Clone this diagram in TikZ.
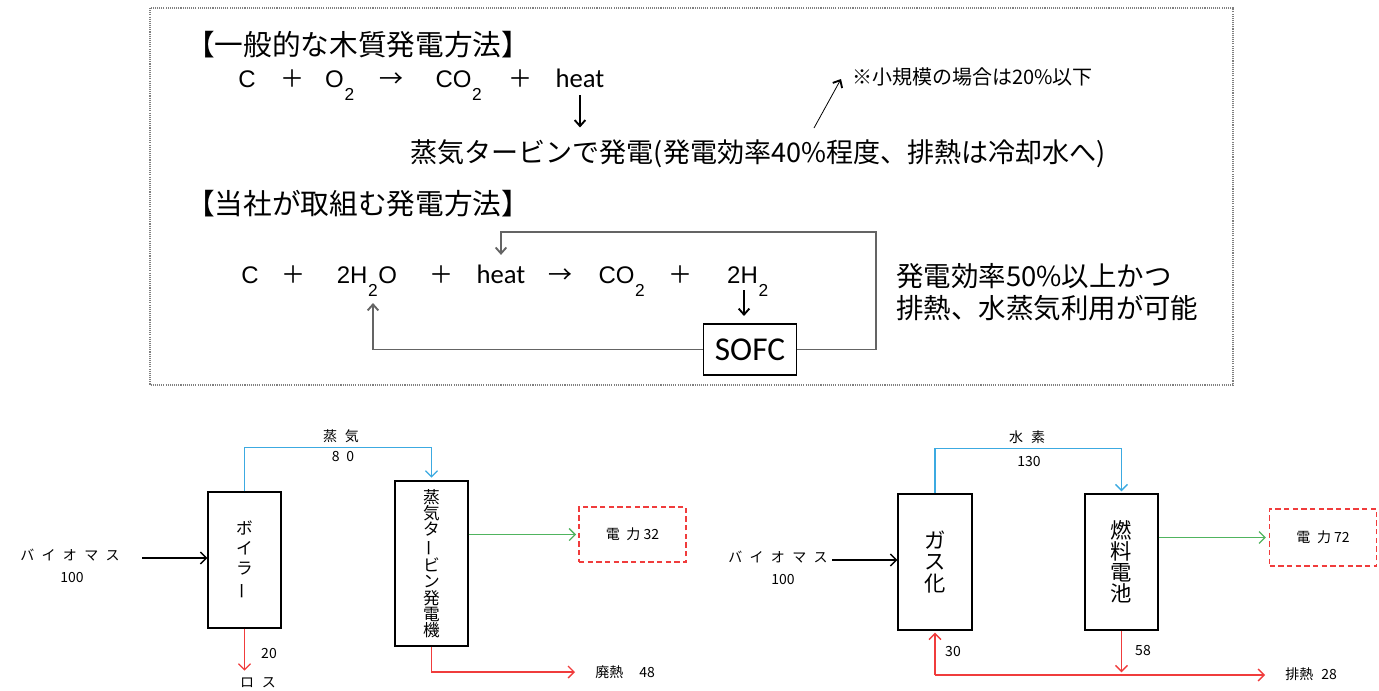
\documentclass[tikz,border=0pt]{standalone}
\usepackage{graphicx}
\usepackage{fontspec}
\setmainfont{Noto Sans CJK JP}
\newfontfamily\arialf{Liberation Sans}
\newfontfamily\calib{Carlito}
\usetikzlibrary{arrows.meta}
\definecolor{cblue}{RGB}{60,170,225}
\definecolor{cgreen}{RGB}{80,180,95}
\definecolor{cred}{RGB}{240,60,60}
\definecolor{lgray}{RGB}{100,100,100}
\newcommand\fs[1]{\fontsize{#1}{#1}\selectfont}
\newcommand\subtwo{\kern0.5pt\raisebox{-0.55em}{\fontsize{13}{13}\selectfont 2}\kern0.5pt}
\newcommand\ls{\hspace{5.5pt}}
\newcommand\vbar{\rotatebox[origin=c]{90}{ー}}
\begin{document}
\begin{tikzpicture}[x=0.75pt,y=-0.75pt,
  eq/.style={anchor=base,inner sep=0pt,font=\arialf\fs{18}},
  eqj/.style={anchor=base,inner sep=0pt,font=\fs{18}},
  heatf/.style={anchor=base,inner sep=0pt,font=\calib\fs{20}},
  big/.style={anchor=west,inner sep=0pt,font=\fs{21.5}},
  lab/.style={inner sep=0pt,font=\fs{10.5}},
  boxn/.style={draw,line width=1pt,inner sep=0pt,align=center},
  pbox/.style={draw=cred,line width=1.3pt,dash pattern=on 4pt off 2.5pt,inner sep=0pt,font=\fs{10.5}},
  barr/.style={-{Straight Barb[length=4.5pt,width=9pt]},line width=1pt},
  tarr/.style={-{Straight Barb[length=4.5pt,width=8pt,line width=1.4pt]},line width=0.8pt}
]
\useasboundingbox (0,0) rectangle (1379,690);
% ---------- top box ----------
\draw[gray,line width=0.8pt,dash pattern=on 0.8pt off 0.8pt] (150,8) rectangle (1233,385);
\node[big] (h1) at (186,45) {【一般的な木質発電方法】};
% equation 1
\node[eq]  (c1)  at (247,87) {C};
\node[eqj] (p1)  at (292,87) {＋};
\node[eq]  (o2)  at (340,87) {O\subtwo};
\node[eqj] (a1)  at (391,87) {→};
\node[eq]  (co1) at (459,87) {CO\subtwo};
\node[eqj] (p2)  at (520,87) {＋};
\node[heatf] (heat1) at (580,87) {heat};
\node[anchor=west,inner sep=0pt,font=\fs{20.3}] (steam) at (410,154) {蒸気タービンで発電(発電効率40\%程度、排熱は冷却水へ)};
\draw[tarr] ([yshift=-6pt]heat1.south) -- ([yshift=-30pt]heat1.south);
\node[anchor=west,inner sep=0pt,font=\fs{15}] (note) at (852,77) {※小規模の場合は20\%以下};
\coordinate (ns) at (814,128);
\coordinate (ne) at (841,79);
\draw[tarr,line width=0.6pt] (ns) -- (ne);
% equation 2
\node[big] (h2) at (186,204) {【当社が取組む発電方法】};
\node[eq]  (c2)  at (250,283) {C};
\node[eqj] (p3)  at (293,283) {＋};
\node[eq]  (h2o) at (367,283) {2H\subtwo O};
\node[eqj] (p4)  at (441,283) {＋};
\node[heatf] (heat2) at (501,283) {heat};
\node[eqj] (a2)  at (560,283) {→};
\node[eq]  (co2) at (622,283) {CO\subtwo};
\node[eqj] (p5)  at (680,283) {＋};
\node[eq]  (hh)  at (748,283) {2H\subtwo};
\node[draw,line width=1pt,minimum width={93*0.75pt},minimum height={51*0.75pt},inner sep=0pt,font=\calib\fs{25}] (sofc) at (750,349.5) {SOFC};
\coordinate (fb) at (876,232);
\draw[tarr,draw=lgray] (sofc.east) -| (fb) -| ([yshift=7pt]heat2.north);
\coordinate (h2oarr) at (373,303);
\draw[tarr,draw=lgray] (sofc.west) -| (h2oarr);
\coordinate (hhs) at (744,290);
\coordinate (hhe) at (744,316);
\draw[tarr] (hhs) -- (hhe);
\node[anchor=west,inner sep=0pt,font=\fs{20.6}] (r1) at (896,276) {発電効率50\%以上かつ};
\node[anchor=west,inner sep=0pt,font=\fs{20.6}] (r2) at (896,308) {排熱、水蒸気利用が可能};
% ---------- bottom left ----------
\node[boxn,minimum width={73*0.75pt},minimum height={136*0.75pt},font=\fontsize{12.5}{15}\selectfont] (boiler) at (244.5,560) {ボ\\イ\\ラ\\\vbar};
\node[boxn,minimum width={73*0.75pt},minimum height={165*0.75pt},font=\fontsize{12.5}{12.2}\selectfont] (turb) at (431.5,563.5) {蒸\\気\\タ\\\vbar\\ビ\\ン\\発\\電\\機};
\node[pbox,minimum width={107*0.75pt},minimum height={55*0.75pt}] (pw1) at (632.5,534.5) {電\hspace{5pt}力 32};
\node[lab] (bio1) at (70,555) {バ\ls イ\ls オ\ls マ\ls ス};
\node[lab] (n100a) at (72,577) {100};
\coordinate (b1s) at (142,558);
\draw[barr] (b1s) -- (boiler.west |- b1s);
\draw[barr,cblue] (boiler.north) -- ++(0,-44) -| ([yshift=2pt]turb.north);
\node[lab] (steaml) at (341,436) {蒸\hspace{6pt}気};
\node[lab] (s80) at (343,457) {8\hspace{5pt}0};
\draw[barr,cgreen,shorten >=1.5pt] (turb.east |- pw1.west) -- (pw1.west);
\draw[barr,cred] (boiler.south) -- ++(0,42);
\node[lab] (n20) at (269,653) {20};
\node[lab] (loss) at (258,683) {ロ\hspace{6pt}ス};
\node[lab,anchor=west] (waste) at (595,672) {廃熱\hspace{12pt}48};
\coordinate (w1) at (575,672);
\draw[barr,cred] (turb.south) |- (w1);
% ---------- bottom right ----------
\node[boxn,minimum width={74*0.75pt},minimum height={136*0.75pt},font=\fontsize{16}{15.8}\selectfont] (gas) at (935,562) {ガ\\ス\\化};
\node[boxn,minimum width={73*0.75pt},minimum height={136*0.75pt},font=\fontsize{16}{15.8}\selectfont] (fuel) at (1121.5,562) {燃\\料\\電\\池};
\node[pbox,minimum width={107*0.75pt},minimum height={57*0.75pt}] (pw2) at (1323,537.5) {電\hspace{5pt}力 72};
\node[lab] (bio2) at (778,557) {バ\ls イ\ls オ\ls マ\ls ス};
\node[lab] (n100b) at (783,579) {100};
\coordinate (b2s) at (832,560);
\draw[barr] (b2s) -- (gas.west |- b2s);
\draw[barr,cblue,shorten >=1.5pt] (gas.north) -- ++(0,-45) -| (fuel.north);
\node[lab] (hyd) at (1027,437) {水\hspace{6pt}素};
\node[lab] (n130) at (1029,462) {130};
\draw[barr,cgreen,shorten >=2pt] (fuel.east |- pw2.west) -- (pw2.west);
\coordinate (hl1) at (935,675);
\coordinate (hl2) at (1265,675);
\draw[barr,cred] (hl1) -- (hl2);
\draw[barr,cred,shorten >=1.5pt] (hl1) -- (gas.south);
\draw[barr,cred,shorten >=2pt] (fuel.south) -- (fuel.south |- hl1);
\node[lab] (n58) at (1143,650) {58};
\node[lab] (n30) at (953,651) {30};
\node[lab,anchor=west] (exh) at (1285,674) {排熱\hspace{6pt}28};
\end{tikzpicture}
\end{document}
